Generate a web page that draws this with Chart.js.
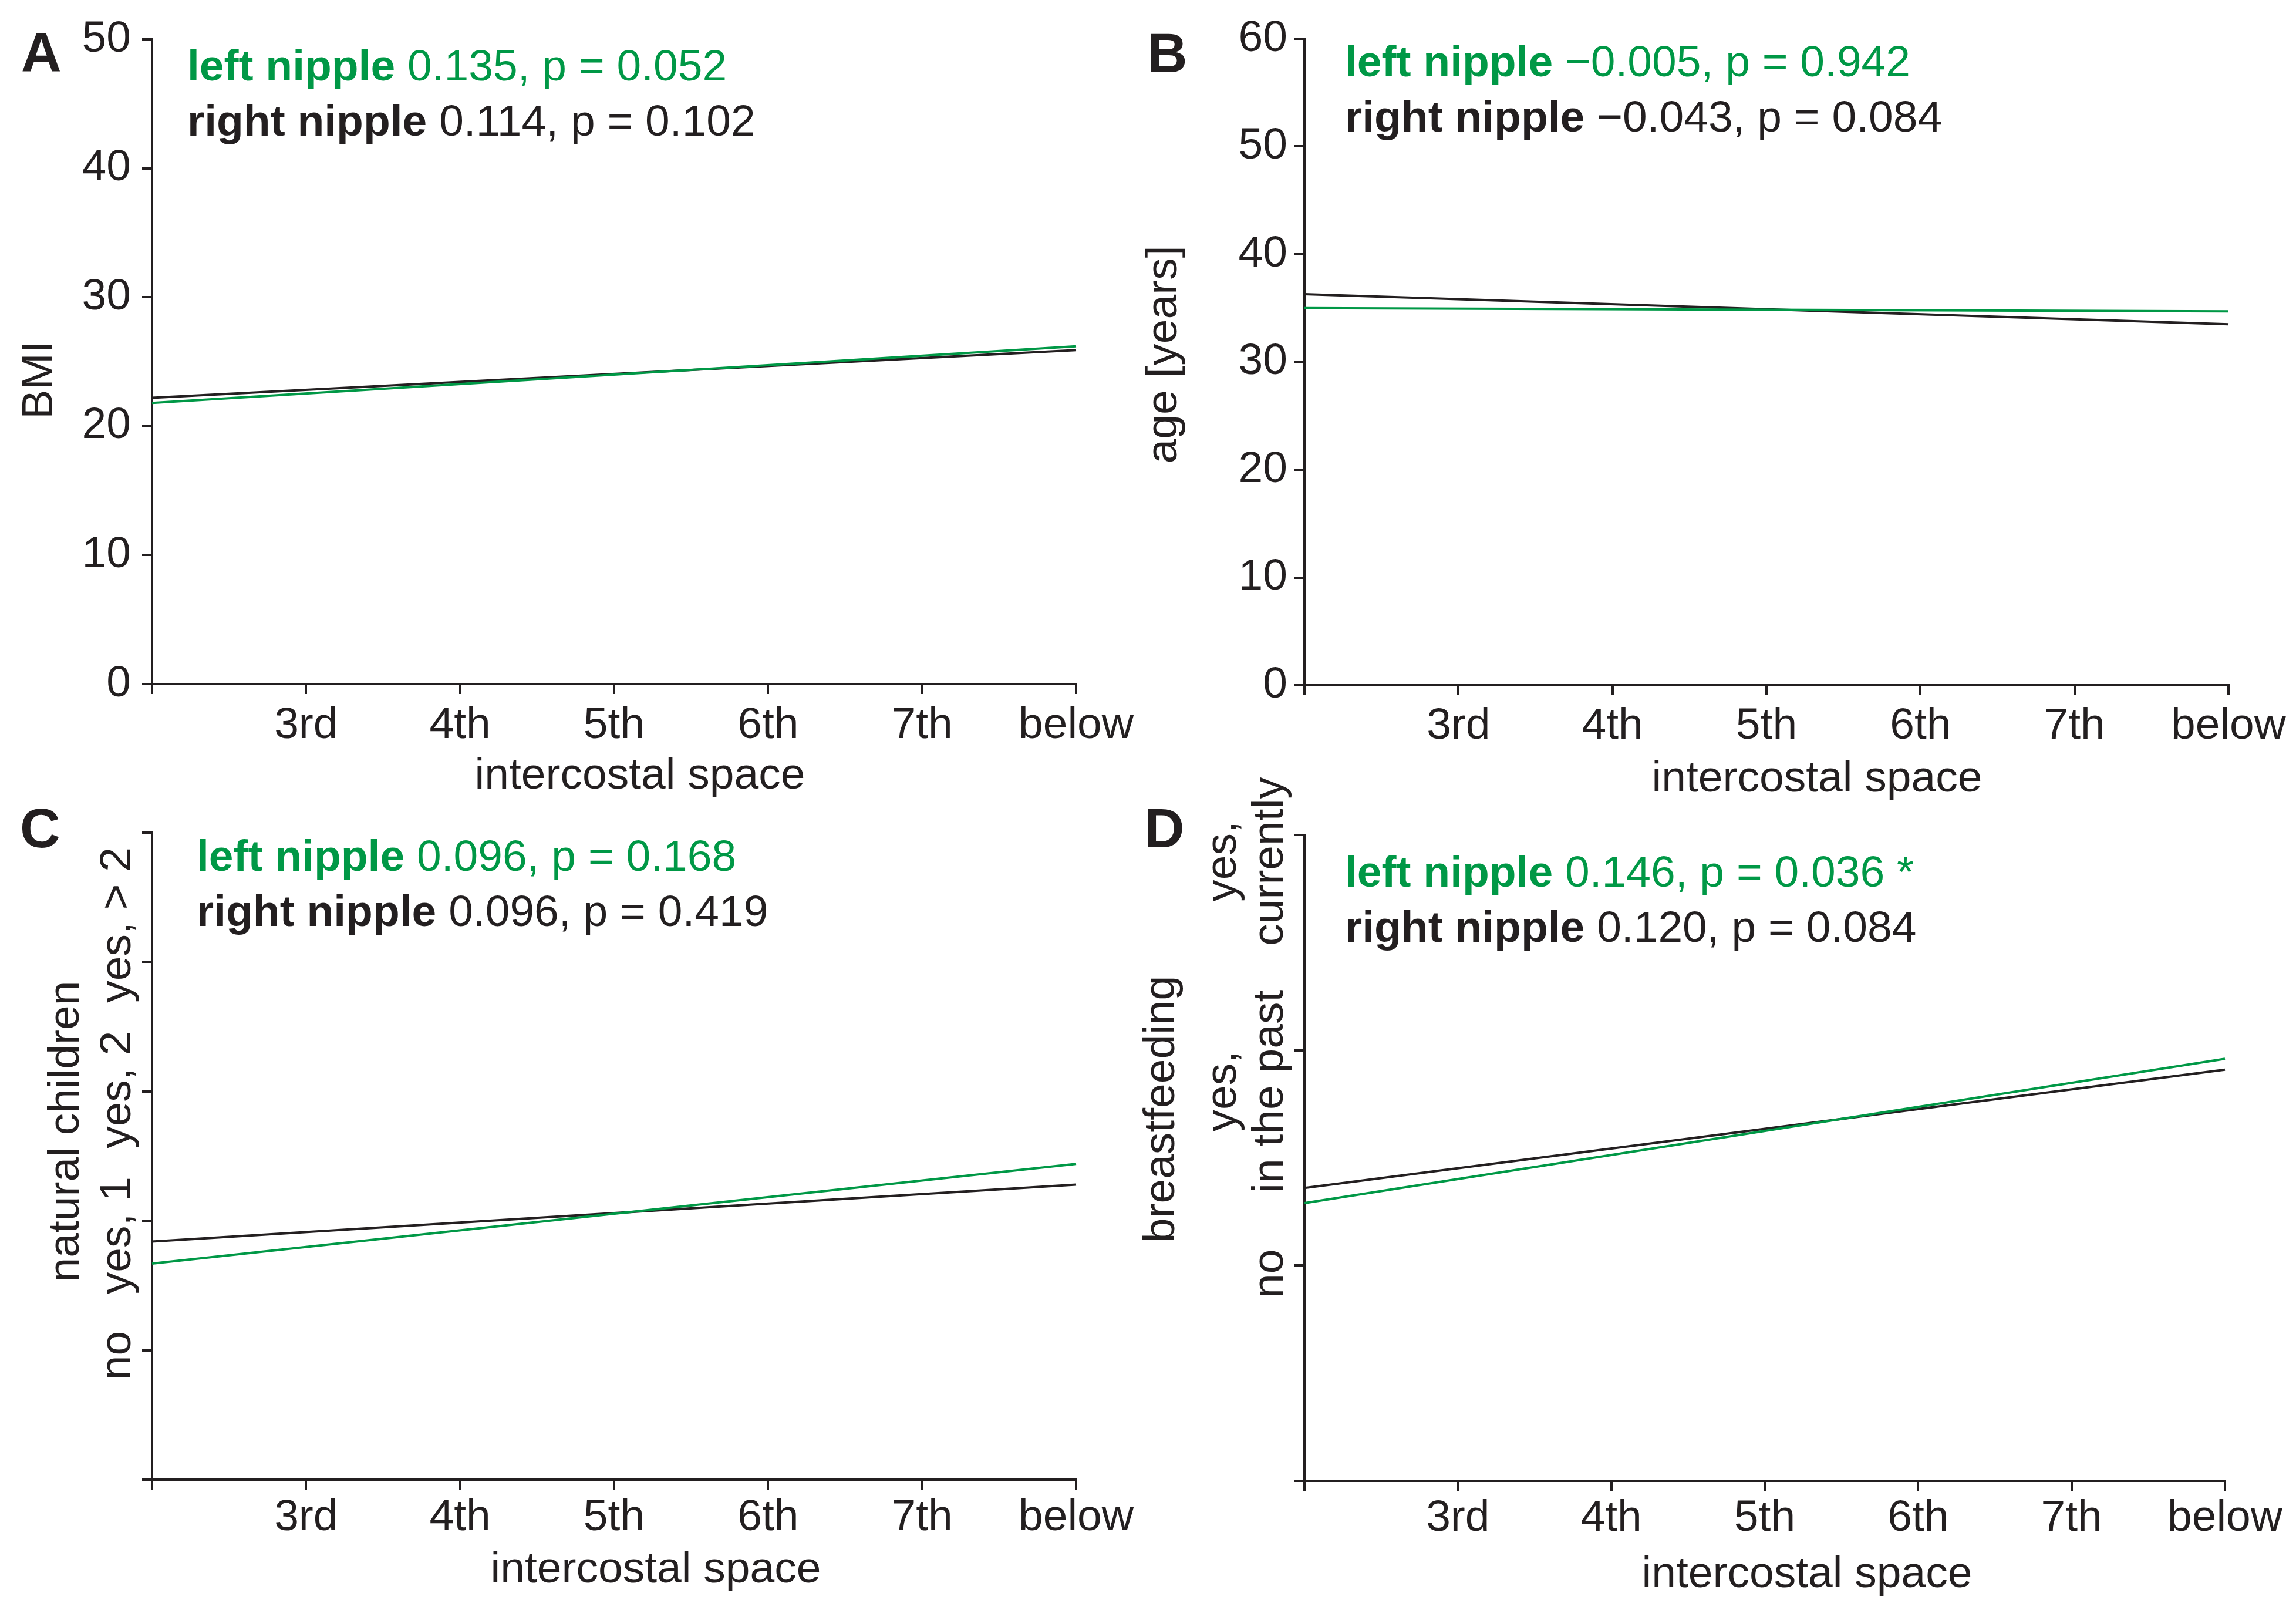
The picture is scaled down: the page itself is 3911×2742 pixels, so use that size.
<!DOCTYPE html>
<html lang="en">
<head>
<meta charset="UTF-8">
<title>Intercostal space of the nipple</title>
<script src="https://cdn.jsdelivr.net/npm/chart.js@4"></script>
<style>
  body { margin: 0; background: #fff; }
  #fig { position: relative; width: 3911px; height: 2742px; background: #fff; }
  #fig canvas { position: absolute; }
</style>
</head>
<body>
<div id="fig">
  <canvas id="chA" width="1955" height="1371" style="left:0px;top:0px"></canvas>
  <canvas id="chB" width="2011" height="1371" style="left:1900px;top:0px"></canvas>
  <canvas id="chC" width="1955" height="1442" style="left:0px;top:1300px"></canvas>
  <canvas id="chD" width="2011" height="1442" style="left:1900px;top:1300px"></canvas>
</div>
<script>
// x categories (first tick has no label)
const spaces = ['', '3rd', '4th', '5th', '6th', '7th', 'below'];

// fitted lines: value at the first and at the last intercostal position
const bmiLeft = [21.8, 26.2];
const bmiRight = [22.2, 25.9];
const ageLeft = [35.0, 34.7];
const ageRight = [36.3, 33.5];
const childLeft = [0.67, 1.44];
const childRight = [0.84, 1.28];
const feedLeft = [0.29, 0.96];
const feedRight = [0.36, 0.91];

// ordinal y levels (index = value)
const childLevels = [['no'], ['yes, 1'], ['yes, 2'], ['yes, > 2']];
const feedLevels = [['no'], ['yes,', 'in the past'], ['yes,', 'currently']];

// correlation text
const statsA = ['0.135, p = 0.052', '0.114, p = 0.102'];
const statsB = ['\u22120.005, p = 0.942', '\u22120.043, p = 0.084'];
const statsC = ['0.096, p = 0.168', '0.096, p = 0.419'];
const statsD = ['0.146, p = 0.036 *', '0.120, p = 0.084'];

const INK = '#231f20';
const GREEN = '#009846';
const FAM = '"Liberation Sans", Arial, Helvetica, sans-serif';
Chart.defaults.font.family = FAM;
Chart.defaults.font.size = 75;
Chart.defaults.color = INK;

function fitLine(pair) {
  return spaces.map((_, i) => i === 0 ? pair[0] : (i === spaces.length - 1 ? pair[1] : null));
}

// letters, stats, axis titles and the rotated level labels
function decor(p) {
  return {
    id: 'decor' + p.letter,
    afterDraw(chart) {
      const ctx = chart.ctx;
      ctx.save();
      ctx.textBaseline = 'alphabetic';
      ctx.textAlign = 'left';
      ctx.fillStyle = INK;
      ctx.font = 'bold 95px ' + FAM;
      ctx.fillText(p.letter, p.letterPos[0], p.letterPos[1]);

      const who = [['left nipple', GREEN], ['right nipple', INK]];
      who.forEach((w, i) => {
        const y = p.notePos[1] + i * 94;
        ctx.fillStyle = w[1];
        ctx.font = 'bold 75px ' + FAM;
        ctx.fillText(w[0], p.notePos[0], y);
        const dx = ctx.measureText(w[0]).width;
        ctx.font = '75px ' + FAM;
        ctx.fillText(' ' + p.stats[i], p.notePos[0] + dx, y);
      });

      ctx.fillStyle = INK;
      ctx.font = '75px ' + FAM;
      ctx.textAlign = 'center';
      ctx.fillText('intercostal space', p.xTitle[0], p.xTitle[1]);

      ctx.save();
      ctx.translate(p.yTitle[0], p.yTitle[1]);
      ctx.rotate(-Math.PI / 2);
      ctx.fillText(p.yText, 0, 0);
      ctx.restore();

      if (p.levels) {
        const ys = chart.scales.y;
        p.levels.forEach((lines, v) => {
          const y = ys.getPixelForValue(v) + p.levelShift[v];
          lines.forEach((t, j) => {
            const bx = p.levelX[lines.length - 1][j];
            ctx.save();
            ctx.translate(bx, y);
            ctx.rotate(-Math.PI / 2);
            ctx.fillText(t, 0, 0);
            ctx.restore();
          });
        });
      }
      ctx.restore();
    }
  };
}

function makePanel(id, p) {
  const yTicks = { color: INK, padding: p.yPad, stepSize: 1 };
  if (p.levels) yTicks.callback = () => '';
  else yTicks.stepSize = 10;
  return new Chart(document.getElementById(id), {
    type: 'line',
    data: {
      labels: spaces,
      datasets: [
        { label: 'left nipple', data: fitLine(p.left), borderColor: GREEN, borderWidth: 4, pointRadius: 0, spanGaps: true, tension: 0 },
        { label: 'right nipple', data: fitLine(p.right), borderColor: INK, borderWidth: 4, pointRadius: 0, spanGaps: true, tension: 0 }
      ]
    },
    options: {
      responsive: false,
      animation: false,
      devicePixelRatio: 1,
      layout: { padding: p.pad },
      plugins: { legend: { display: false }, tooltip: { enabled: false } },
      scales: {
        x: {
          offset: false,
          grid: { drawOnChartArea: false, tickLength: 17, color: INK, lineWidth: 4 },
          border: { color: INK, width: 4 },
          ticks: { color: INK, padding: p.xPad, maxRotation: 0, autoSkip: false },
          afterFit: s => { s.height = p.xH; }
        },
        y: {
          min: p.yMin, max: p.yMax,
          grid: { drawOnChartArea: false, tickLength: 17, color: INK, lineWidth: 4 },
          border: { color: INK, width: 4 },
          ticks: yTicks,
          afterFit: s => { s.width = p.yW; }
        }
      }
    },
    plugins: [decor(p)]
  });
}

makePanel('chA', {
  letter: 'A', letterPos: [36, 122], notePos: [319, 137], stats: statsA,
  left: bmiLeft, right: bmiRight, yMin: 0, yMax: 50, yText: 'BMI',
  pad: { left: 0, top: 67, right: 122, bottom: 0 }, yW: 259, xH: 206, xPad: 9, yPad: 19,
  xTitle: [1090, 1343], yTitle: [89, 647]
});
makePanel('chB', {
  letter: 'B', letterPos: [54, 123], notePos: [391, 130], stats: statsB,
  left: ageLeft, right: ageRight, yMin: 0, yMax: 60, yText: 'age [years]',
  pad: { left: 0, top: 66, right: 115, bottom: 0 }, yW: 322, xH: 204, xPad: 8, yPad: 12,
  xTitle: [1195, 1348], yTitle: [104, 604]
});
makePanel('chC', {
  letter: 'C', letterPos: [34, 143], notePos: [335, 183], stats: statsC,
  left: childLeft, right: childRight, yMin: -1, yMax: 4, yText: 'natural children',
  pad: { left: 0, top: 118, right: 122, bottom: 0 }, yW: 259, xH: 222, xPad: 3, yPad: 12,
  xTitle: [1117, 1395], yTitle: [134, 627],
  levels: childLevels, levelShift: [9, 25, -3, -63], levelX: [[222]]
});
makePanel('chD', {
  letter: 'D', letterPos: [49, 143], notePos: [391, 210], stats: statsD,
  left: feedLeft, right: feedRight, yMin: -1, yMax: 2, yText: 'breastfeeding',
  pad: { left: 0, top: 122, right: 121, bottom: 0 }, yW: 322, xH: 220, xPad: 2, yPad: 12,
  xTitle: [1178, 1403], yTitle: [100, 589],
  levels: feedLevels, levelShift: [14, 70, 45], levelX: [[285], [205, 285]]
});
</script>
</body>
</html>
